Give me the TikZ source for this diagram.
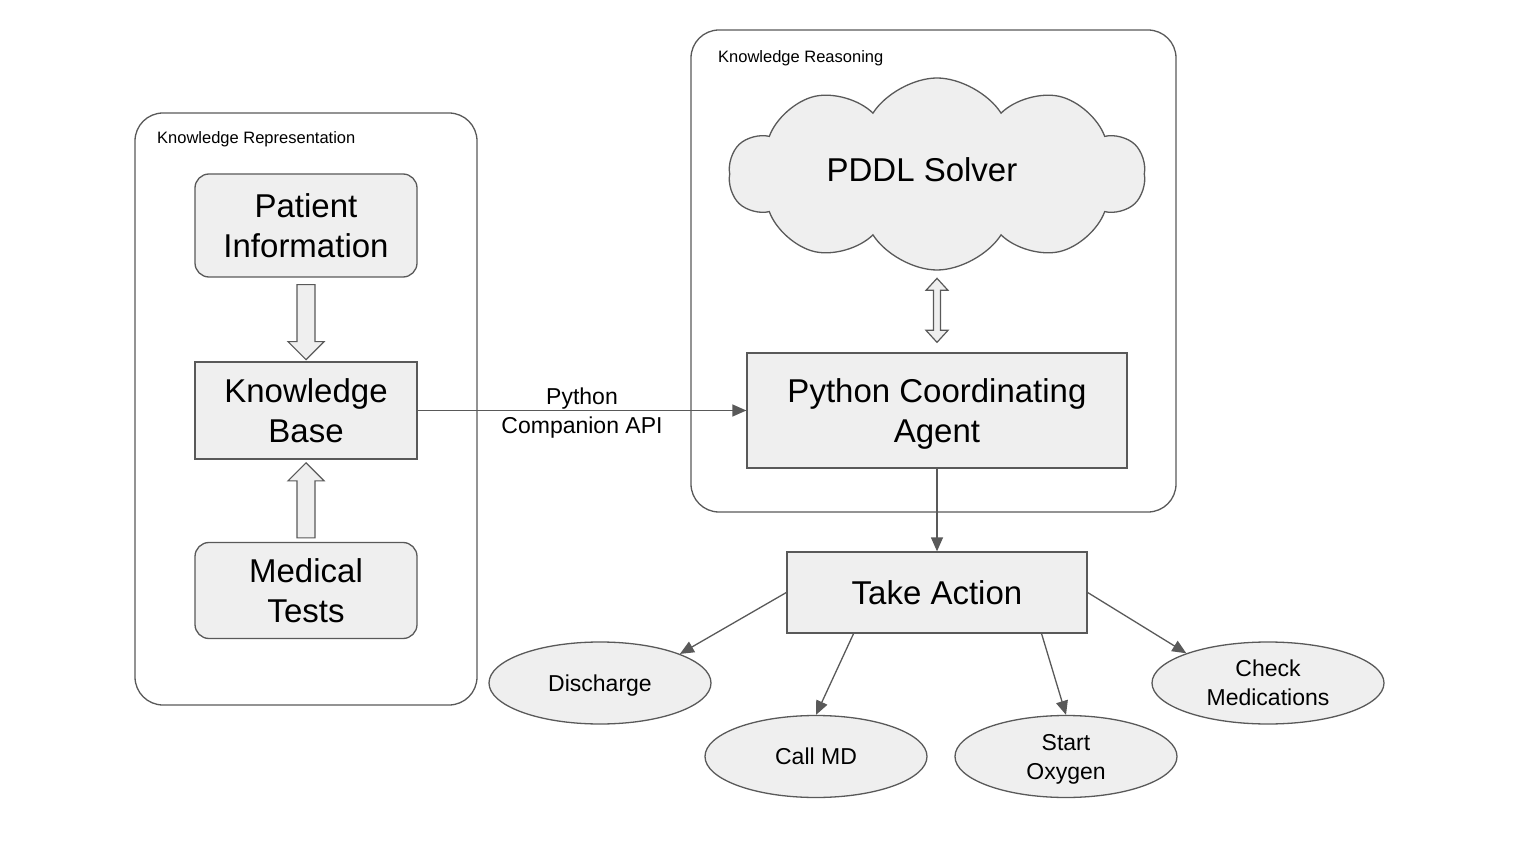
\documentclass[tikz,border=0pt]{standalone}
\usepackage{fontspec}
\setmainfont{Liberation Sans}
\usepackage{tikz}
\usetikzlibrary{arrows.meta,calc,shapes.geometric,shapes.symbols}
\definecolor{lineGray}{HTML}{595959}
\definecolor{boxFill}{HTML}{EFEFEF}
\tikzset{
	every block/.style={
		rectangle,
		draw=lineGray,
		fill=boxFill,
		line width=1.3pt,
		align=center,
		inner sep=0pt,
		text depth=0pt,
		font=\fontsize{33}{40}\selectfont
	},
	every action/.style={
		ellipse,
		draw=lineGray,
		fill=boxFill,
		line width=1.3pt,
		align=center,
		inner sep=0pt,
		text depth=0pt,
		minimum width=222,
		minimum height=82,
		font=\fontsize{23}{29}\selectfont
	},
	group box/.style={
		rectangle,
		rounded corners=28,
		draw=lineGray,
		line width=1.3pt,
		inner sep=0pt
	},
	group label/.style={
		anchor=west,
		inner sep=0pt,
		text depth=0pt,
		font=\fontsize{16.5}{20}\selectfont
	},
}

\begin{document}
\begin{tikzpicture}[x=1pt,y=-1pt]
%\draw[help lines,step=100] (0,0) grid (1518,866);
\tikzset{fatArrow/.style = {
		draw=lineGray,
		fill=boxFill,
		line width=1.2pt,
		line join=miter}}
\tikzset{EdgeStyle/.style = {
		draw=lineGray,
		line width=1.3pt,
		-{Triangle[length=14pt,width=12pt]}}}

\useasboundingbox (0,0) rectangle (1518,866);

\node[group box, minimum width=342, minimum height=592] (reprGroup) at (306,409) {};
	\node[group label] (reprLabel) at (157,138) {Knowledge Representation};
	\node[every block, rounded corners=14, minimum width=222, minimum height=103] (patientInfo) at (306,225.5) {Patient\\Information};
	\node[every block, minimum width=222, minimum height=97] (knowledgeBase) at (306,410.5) {Knowledge\\Base};
	\node[every block, rounded corners=14, minimum width=222, minimum height=96] (medicalTests) at (306,590.5) {Medical\\Tests};

\node[group box, minimum width=485, minimum height=482] (reasonGroup) at (933.5,271) {};
	\node[group label] (reasonLabel) at (718,57) {Knowledge Reasoning};
	\node[cloud, cloud puffs=10, cloud puff arc=115, aspect=2.17, draw=lineGray, fill=boxFill,
		line width=1.3pt, minimum width=416, minimum height=192, inner sep=0pt, text depth=8pt,
		font=\fontsize{33}{40}\selectfont] (pddlSolver) at (937,174) {\kern-30pt PDDL Solver};
	\node[every block, minimum width=380, minimum height=115] (coordAgent) at (937,410.5) {Python Coordinating\\Agent};

\node[every block, minimum width=300, minimum height=81] (takeAction) at (937,592.5) {Take Action};
	\node[every action] (discharge) at (600,683) {Discharge};
	\node[every action] (callMD) at (816,756.5) {Call MD};
	\node[every action] (startOxygen) at (1066,756.5) {Start\\Oxygen};
	\node[every action, minimum width=232] (checkMeds) at (1268,683) {Check\\Medications};

% block arrows
\draw[fatArrow] ($(patientInfo.south)+(-9,7)$) -- ++(18,0) -- ++(0,57) -- ++(9,0) -- ++(-18,18) -- ++(-18,-18) -- ++(9,0) -- cycle;
\draw[fatArrow] ($(medicalTests.north)+(-9,-4)$) -- ++(0,-57) -- ++(-9,0) -- ++(18,-18) -- ++(18,18) -- ++(-9,0) -- ++(0,57) -- cycle;
\draw[fatArrow] ($(coordAgent.north)+(0,-10)$) -- ++(11,-12) -- ++(-7.5,0) -- ++(0,-40) -- ++(7.5,0) -- ++(-11,-12) -- ++(-11,12) -- ++(7.5,0) -- ++(0,40) -- ++(-7.5,0) -- cycle;

\draw[EdgeStyle] (knowledgeBase.east) -- node[align=center, text depth=0pt, font=\fontsize{23}{29}\selectfont] {Python\\Companion API} (coordAgent.west);
\draw[EdgeStyle] (coordAgent.south) -- (takeAction.north);
\draw[EdgeStyle] (takeAction.west) -- (discharge.20);
\draw[EdgeStyle] ($(takeAction.south west)!0.223!(takeAction.south east)$) -- (callMD.north);
\draw[EdgeStyle] ($(takeAction.south west)!0.847!(takeAction.south east)$) -- (startOxygen.north);
\draw[EdgeStyle] (takeAction.east) -- (checkMeds.160);

\end{tikzpicture}
\end{document}
